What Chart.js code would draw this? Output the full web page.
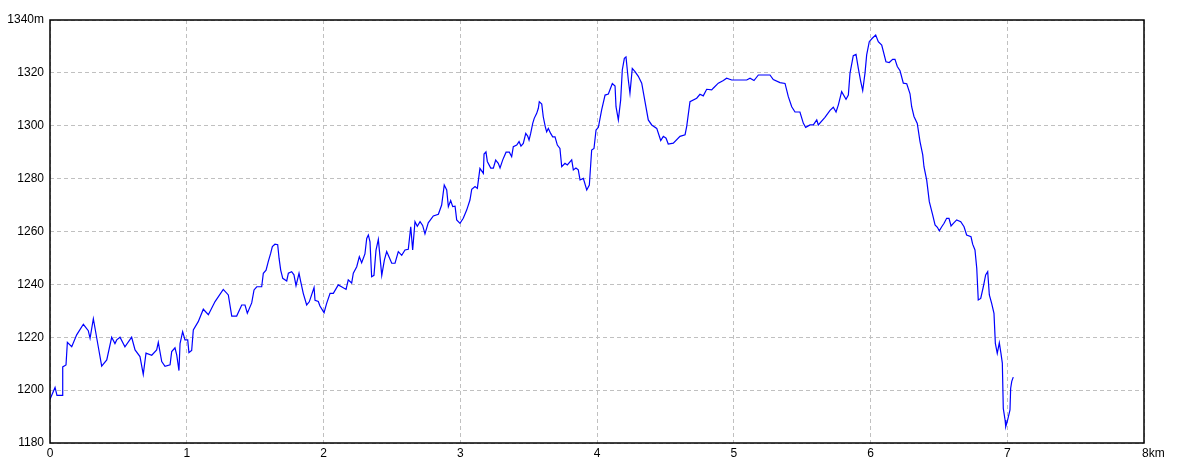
<!DOCTYPE html>
<html>
<head>
<meta charset="utf-8">
<script src="https://cdn.jsdelivr.net/npm/chart.js@4"></script>
<style>
  html, body { margin: 0; padding: 0; background: #fff; }
  #wrap { width: 1184px; height: 473px; }
</style>
</head>
<body>
<div id="wrap"><canvas id="profile"></canvas></div>
<script>
// ===== Data (distance in km, elevation in m) =====
const distKm = [
  0.000, 0.037, 0.051, 0.088, 0.093, 0.117, 0.127, 0.159, 0.195, 0.244,
  0.280, 0.293, 0.317, 0.353, 0.378, 0.415, 0.451, 0.475, 0.488, 0.512,
  0.548, 0.597, 0.622, 0.658, 0.682, 0.702, 0.744, 0.780, 0.792, 0.817,
  0.841, 0.878, 0.890, 0.914, 0.927, 0.943, 0.951, 0.970, 0.987, 1.007,
  1.016, 1.036, 1.048, 1.084, 1.121, 1.158, 1.207, 1.267, 1.304, 1.329,
  1.365, 1.402, 1.426, 1.443, 1.475, 1.492, 1.512, 1.548, 1.560, 1.580,
  1.596, 1.614, 1.626, 1.645, 1.665, 1.675, 1.687, 1.702, 1.731, 1.743,
  1.767, 1.784, 1.799, 1.821, 1.833, 1.852, 1.877, 1.896, 1.931, 1.938,
  1.962, 1.974, 2.004, 2.023, 2.048, 2.072, 2.108, 2.135, 2.165, 2.181,
  2.206, 2.218, 2.243, 2.262, 2.279, 2.303, 2.316, 2.328, 2.340, 2.352,
  2.369, 2.384, 2.401, 2.426, 2.445, 2.462, 2.474, 2.499, 2.523, 2.547,
  2.572, 2.596, 2.620, 2.638, 2.652, 2.669, 2.686, 2.706, 2.725, 2.742,
  2.766, 2.803, 2.840, 2.864, 2.883, 2.901, 2.913, 2.930, 2.945, 2.962,
  2.974, 2.998, 3.022, 3.047, 3.071, 3.084, 3.108, 3.125, 3.144, 3.169,
  3.174, 3.188, 3.198, 3.223, 3.242, 3.259, 3.278, 3.291, 3.310, 3.335,
  3.359, 3.376, 3.388, 3.413, 3.430, 3.444, 3.461, 3.479, 3.493, 3.503,
  3.515, 3.530, 3.541, 3.559, 3.571, 3.578, 3.596, 3.607, 3.622, 3.632,
  3.644, 3.661, 3.676, 3.693, 3.710, 3.729, 3.742, 3.766, 3.783, 3.815,
  3.827, 3.846, 3.863, 3.876, 3.900, 3.925, 3.944, 3.961, 3.978, 3.993,
  4.010, 4.034, 4.059, 4.083, 4.112, 4.132, 4.139, 4.156, 4.173, 4.185,
  4.200, 4.212, 4.229, 4.241, 4.258, 4.278, 4.302, 4.327, 4.351, 4.375,
  4.400, 4.437, 4.466, 4.485, 4.505, 4.521, 4.558, 4.607, 4.644, 4.656,
  4.680, 4.729, 4.753, 4.777, 4.802, 4.839, 4.850, 4.887, 4.924, 4.948,
  4.985, 5.095, 5.119, 5.148, 5.180, 5.265, 5.289, 5.338, 5.375, 5.399,
  5.424, 5.448, 5.484, 5.509, 5.526, 5.558, 5.582, 5.607, 5.618, 5.667,
  5.704, 5.728, 5.748, 5.765, 5.789, 5.821, 5.838, 5.850, 5.874, 5.894,
  5.911, 5.928, 5.943, 5.960, 5.972, 5.991, 6.013, 6.038, 6.057, 6.082,
  6.113, 6.137, 6.162, 6.179, 6.196, 6.216, 6.240, 6.265, 6.289, 6.301,
  6.318, 6.342, 6.362, 6.382, 6.391, 6.411, 6.430, 6.455, 6.472, 6.489,
  6.503, 6.521, 6.538, 6.557, 6.574, 6.589, 6.606, 6.630, 6.660, 6.684,
  6.703, 6.735, 6.747, 6.764, 6.777, 6.788, 6.806, 6.825, 6.842, 6.857,
  6.869, 6.886, 6.903, 6.913, 6.927, 6.942, 6.954, 6.964, 6.971, 6.984,
  6.989, 7.000, 7.020, 7.025, 7.033, 7.044
];

const elevM = [
  1196.5, 1201.0, 1198.0, 1198.0, 1208.8, 1209.5, 1218.1, 1216.4, 1220.9, 1224.9,
  1222.5, 1219.6, 1227.0, 1216.4, 1209.1, 1211.4, 1220.0, 1217.6, 1219.0, 1220.0,
  1216.4, 1220.0, 1215.2, 1212.7, 1206.0, 1214.0, 1213.2, 1215.2, 1218.1, 1210.8,
  1209.0, 1209.6, 1214.6, 1216.0, 1213.2, 1207.4, 1217.6, 1222.1, 1219.0, 1219.0,
  1214.2, 1215.0, 1222.8, 1225.9, 1230.6, 1228.5, 1233.5, 1238.1, 1236.0, 1228.0,
  1228.0, 1232.2, 1232.2, 1229.1, 1233.0, 1237.9, 1239.1, 1239.1, 1244.2, 1245.4,
  1248.6, 1251.8, 1254.3, 1255.2, 1255.0, 1249.9, 1245.4, 1242.3, 1241.3, 1244.2,
  1244.8, 1243.6, 1239.5, 1244.2, 1241.1, 1236.6, 1232.2, 1233.4, 1238.8, 1234.0,
  1233.5, 1231.8, 1229.3, 1232.8, 1236.6, 1236.6, 1239.8, 1239.0, 1238.1, 1241.7,
  1240.5, 1244.2, 1246.7, 1250.5, 1248.2, 1251.5, 1257.4, 1258.7, 1256.1, 1242.9,
  1243.4, 1253.0, 1257.0, 1243.4, 1249.2, 1252.4, 1251.0, 1248.0, 1248.0, 1252.4,
  1251.0, 1253.0, 1253.3, 1261.8, 1253.0, 1263.7, 1262.0, 1263.7, 1262.3, 1259.1,
  1263.3, 1265.9, 1266.5, 1270.0, 1277.6, 1275.7, 1269.4, 1271.7, 1269.4, 1269.6,
  1264.4, 1263.1, 1265.0, 1268.1, 1271.9, 1276.0, 1277.0, 1276.3, 1283.9, 1282.0,
  1289.3, 1290.1, 1286.5, 1284.0, 1284.0, 1287.0, 1285.8, 1284.0, 1287.0, 1290.0,
  1290.0, 1288.3, 1292.1, 1292.7, 1294.0, 1292.3, 1293.3, 1297.1, 1296.1, 1294.6,
  1297.1, 1300.9, 1302.8, 1304.7, 1306.6, 1309.1, 1308.2, 1303.4, 1299.6, 1297.7,
  1299.0, 1297.1, 1295.8, 1295.8, 1292.7, 1291.4, 1284.5, 1285.8, 1285.2, 1287.1,
  1283.3, 1284.0, 1283.3, 1279.5, 1280.1, 1275.7, 1277.6, 1290.8, 1291.4, 1298.4,
  1299.4, 1306.0, 1311.6, 1312.0, 1316.0, 1315.0, 1307.2, 1302.2, 1309.7, 1321.1,
  1325.5, 1326.0, 1317.3, 1312.3, 1321.7, 1320.5, 1318.7, 1316.1, 1309.1, 1302.2,
  1300.3, 1299.0, 1294.4, 1296.0, 1295.3, 1293.1, 1293.4, 1296.0, 1296.6, 1299.8,
  1309.1, 1310.4, 1311.9, 1311.3, 1313.8, 1313.6, 1314.2, 1316.1, 1317.1, 1318.0,
  1317.3, 1317.3, 1318.0, 1317.1, 1319.2, 1319.2, 1317.5, 1316.3, 1316.0, 1311.0,
  1307.2, 1305.2, 1305.2, 1300.9, 1299.4, 1300.3, 1300.3, 1302.2, 1300.3, 1303.2,
  1305.8, 1307.0, 1305.2, 1307.9, 1312.9, 1310.0, 1311.6, 1319.8, 1326.5, 1327.0,
  1321.7, 1316.9, 1313.3, 1320.0, 1326.8, 1331.8, 1333.1, 1334.3, 1331.8, 1330.5,
  1324.2, 1323.9, 1325.1, 1325.1, 1322.4, 1320.8, 1316.1, 1315.9, 1312.1, 1307.2,
  1303.5, 1300.9, 1294.0, 1289.0, 1284.5, 1279.4, 1271.3, 1266.2, 1262.5, 1261.6,
  1260.3, 1261.8, 1263.1, 1265.0, 1265.0, 1262.1, 1263.1, 1264.4, 1263.7, 1261.8,
  1258.7, 1258.0, 1255.2, 1253.0, 1246.1, 1234.1, 1234.7, 1239.1, 1243.6, 1244.8,
  1236.0, 1232.8, 1229.0, 1217.7, 1213.9, 1217.9, 1213.9, 1210.2, 1193.1, 1188.7,
  1186.2, 1188.1, 1192.5, 1200.7, 1203.3, 1204.9
];

// ===== Axis ranges =====
const X_MIN = 0, X_MAX = 8, X_STEP = 1;
const Y_MIN = 1180, Y_MAX = 1340, Y_STEP = 20;

const LABEL_FONT = { family: '"Liberation Sans Narrow", "Liberation Sans", Arial, sans-serif', size: 12 };

// black frame around the plot area
const framePlugin = {
    id: 'frame',
    afterDraw(chart) {
        const { ctx, chartArea: a } = chart;
        ctx.save();
        ctx.strokeStyle = '#000';
        ctx.lineWidth = 1.5;
        ctx.strokeRect(a.left, a.top, a.right - a.left, a.bottom - a.top);
        ctx.restore();
    }
};

// tick labels drawn by hand ("8km" hangs to the right of its tick)
const labelPlugin = {
    id: 'labels',
    afterDraw(chart) {
        const { ctx, chartArea: a } = chart;
        const xs = chart.scales.x, ys = chart.scales.y;
        ctx.save();
        ctx.fillStyle = '#000';
        ctx.font = `${LABEL_FONT.size}px ${LABEL_FONT.family}`;
        ctx.textBaseline = 'middle';
        ctx.textAlign = 'right';
        for (let v = Y_MIN; v <= Y_MAX; v += Y_STEP) {
            ctx.fillText(v === Y_MAX ? v + 'm' : String(v), a.left - 6, ys.getPixelForValue(v));
        }
        ctx.textBaseline = 'top';
        for (let v = X_MIN; v <= X_MAX; v += X_STEP) {
            const px = xs.getPixelForValue(v);
            if (v === X_MAX) {
                ctx.textAlign = 'left';
                ctx.fillText(v + 'km', px - 2, a.bottom + 5);
            } else {
                ctx.textAlign = 'center';
                ctx.fillText(String(v), px, a.bottom + 5);
            }
        }
        ctx.restore();
    }
};

const gridStyle = {
    color: '#c0c0c0',
    lineWidth: 1,
    drawTicks: false
};

new Chart(document.getElementById('profile').getContext('2d'), {
    type: 'line',
    data: {
        datasets: [{
            data: distKm.map((d, i) => ({ x: d, y: elevM[i] })),
            borderColor: '#0000ff',
            borderWidth: 1.2,
            pointRadius: 0,
            tension: 0,
            fill: false
        }]
    },
    options: {
        responsive: true,
        maintainAspectRatio: false,
        animation: false,
        events: [],
        layout: { padding: { top: 20, right: 40, left: 0, bottom: 0 } },
        plugins: { legend: { display: false }, tooltip: { enabled: false } },
        scales: {
            x: {
                type: 'linear',
                min: X_MIN, max: X_MAX,
                ticks: { stepSize: X_STEP, display: false },
                grid: gridStyle,
                border: { display: false, dash: [4, 3] },
                afterFit(scale) { scale.height = 30; }
            },
            y: {
                type: 'linear',
                min: Y_MIN, max: Y_MAX,
                ticks: { stepSize: Y_STEP, display: false },
                grid: gridStyle,
                border: { display: false, dash: [4, 3] },
                afterFit(scale) { scale.width = 50; }
            }
        }
    },
    plugins: [framePlugin, labelPlugin]
});
</script>
</body>
</html>
